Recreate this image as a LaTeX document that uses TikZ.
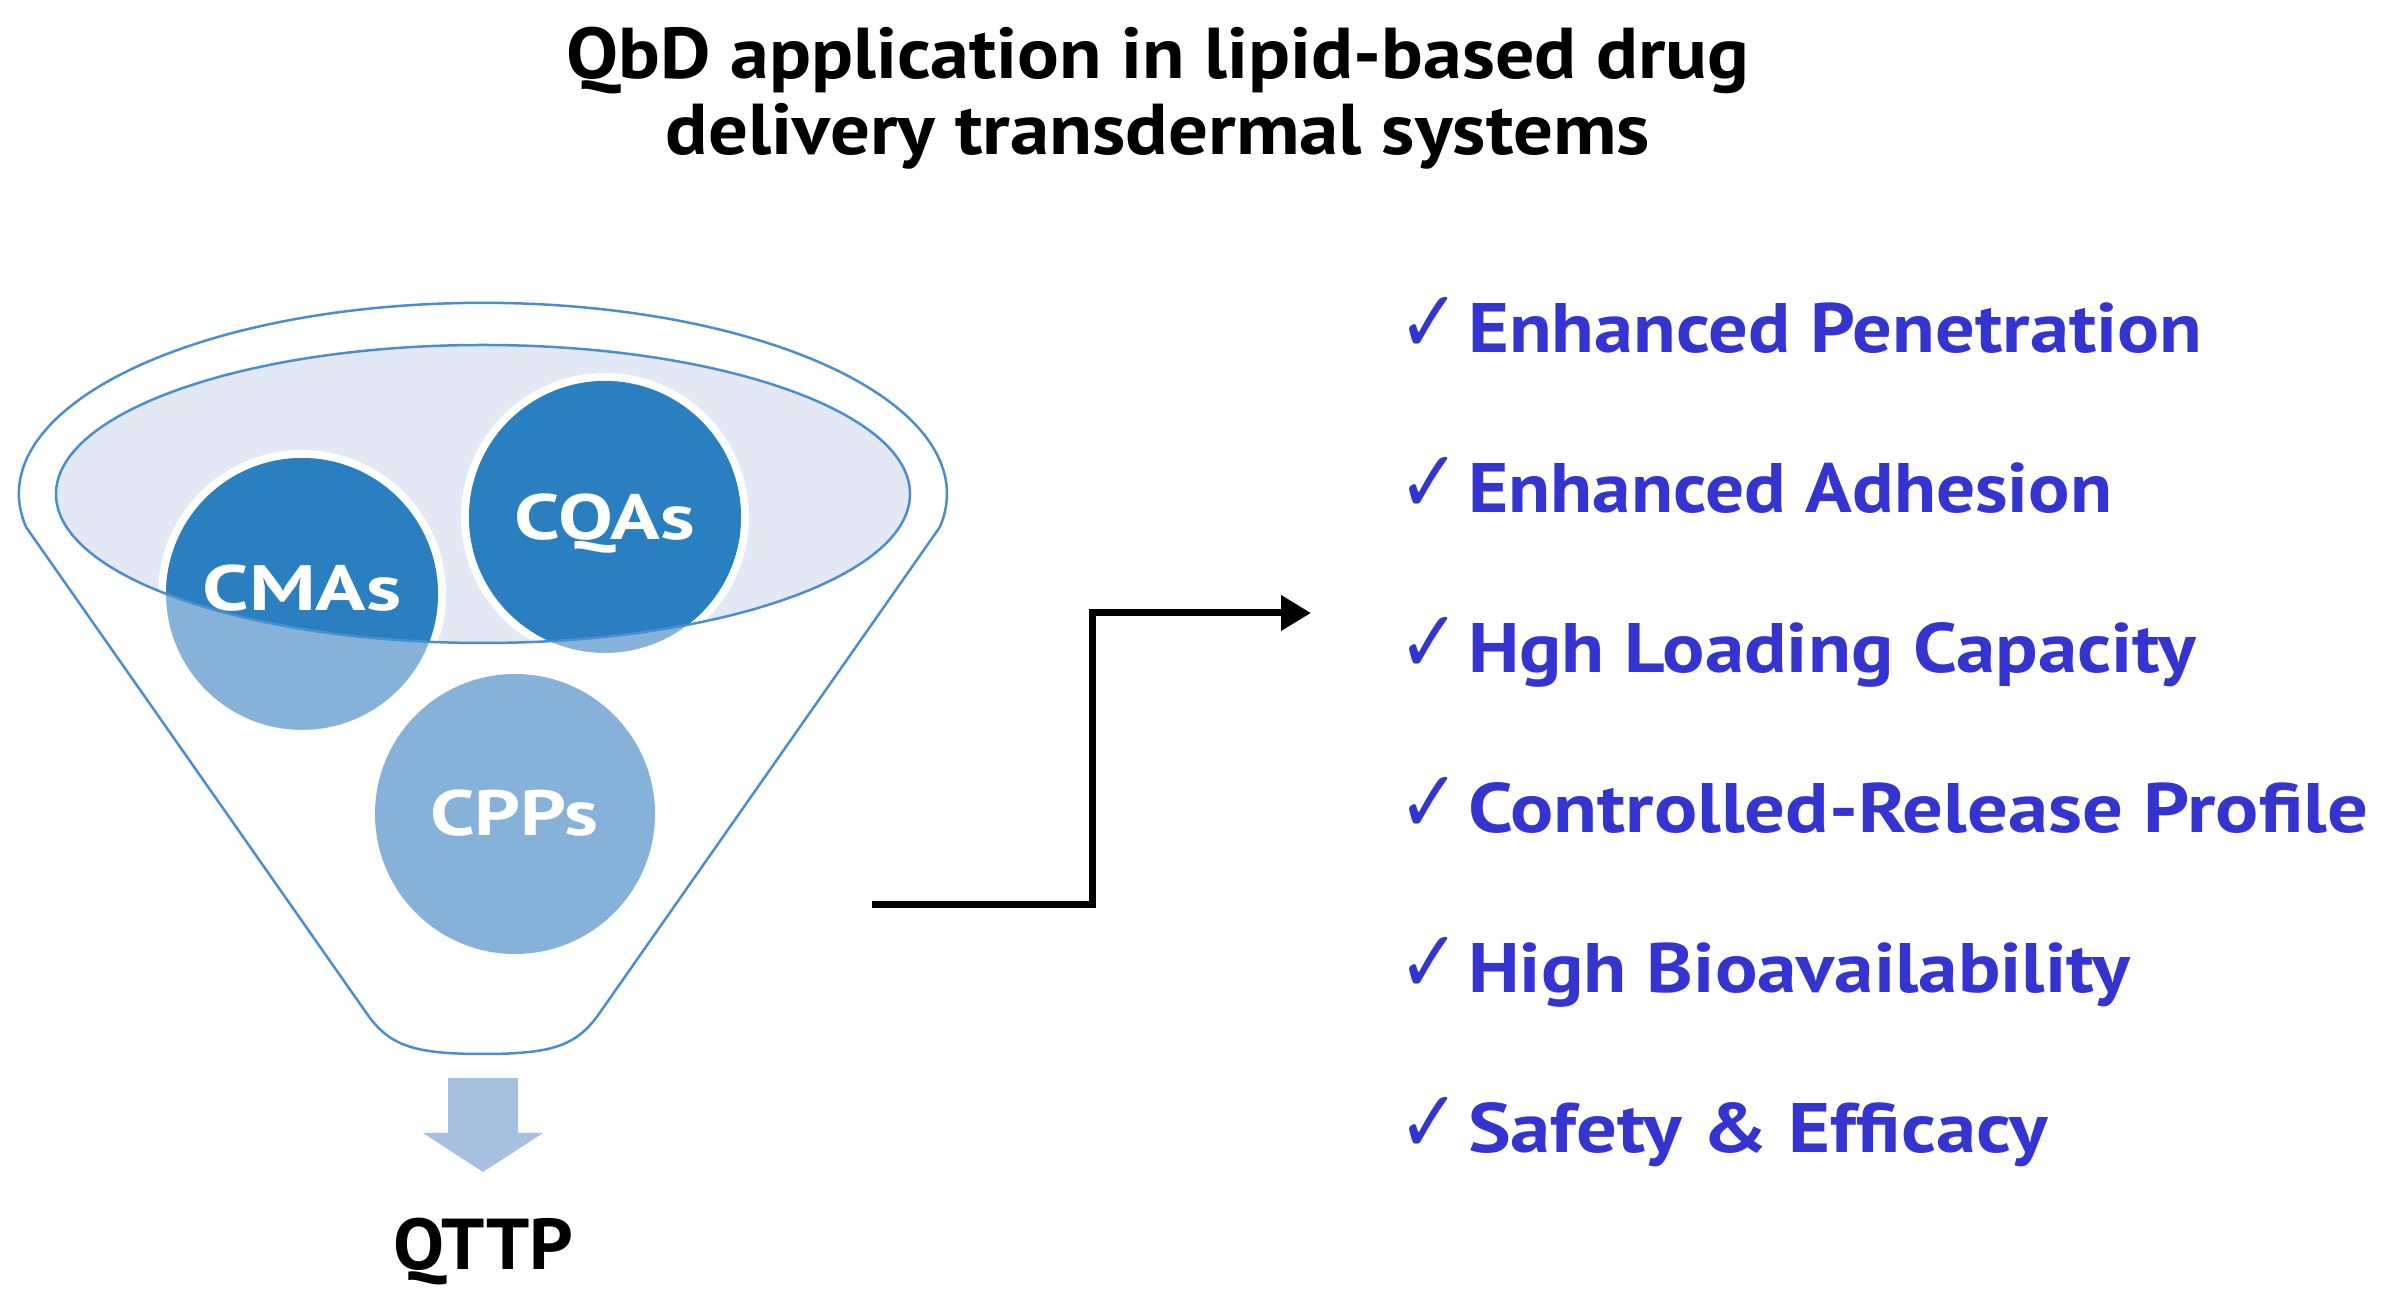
\documentclass[tikz,border=0pt]{standalone}
\usepackage{graphicx}
\usepackage{fontspec}
\setmainfont{PT Sans}
\newfontfamily\symfont{DejaVu Sans}
\usetikzlibrary{arrows.meta}
\definecolor{dkblue}{RGB}{42,127,193}
\definecolor{ltblue}{RGB}{134,178,217}
\definecolor{ellfill}{RGB}{227,233,244}
\definecolor{outl}{RGB}{75,142,208}
\definecolor{arrowc}{RGB}{168,192,224}
\definecolor{itemc}{RGB}{52,52,208}
\newcommand\fitw[2]{\resizebox{#1}{\height}{#2}}
\tikzset{
  titletxt/.style={font=\bfseries\fontsize{72}{80}\selectfont, text=black, inner sep=0, anchor=base},
  itemtxt/.style={font=\bfseries\fontsize{70}{80}\selectfont, text=itemc, inner sep=0, anchor=base west},
  chk/.style={font=\symfont\bfseries\fontsize{44}{50}\selectfont, text=itemc, inner sep=0, anchor=base west},
  lbl/.style={font=\bfseries\fontsize{64}{70}\selectfont, text=white, inner sep=0, anchor=base},
  funnel/.style={draw=outl, line width=2.5pt, fill=white},
  ball/.style={circle, minimum size=280pt, inner sep=0, fill=ltblue},
  ringball/.style={ball, draw=white, line width=8pt},
  conn/.style={draw=black, line width=7pt, -{Triangle[length=30pt,width=34pt]}}
}
\begin{document}
\begin{tikzpicture}[x=1pt,y=1pt]
\useasboundingbox (0,0) rectangle (2385,1301);
\fill[white] (0,0) rectangle (2385,1301);

% title
\node[titletxt] (t1) at (1158,1222) {\fitw{1183pt}{QbD application in lipid-based drug}};
\node[titletxt] (t2) at (1158,1146) {\fitw{984pt}{delivery transdermal systems}};

% funnel
\draw[funnel] (26,774) arc[start angle=190, end angle=-10, x radius=464, y radius=191]
  -- (601,290) .. controls (578,256) and (555,247) .. (483,247)
  .. controls (411,247) and (388,256) .. (365,290) -- cycle;
\fill[ellfill] (483,807) ellipse [x radius=427, y radius=149];

\node[ringball] (cma) at (302,707) {};
\node[ringball] (cqa) at (605,784) {};
\begin{scope}
  \clip (483,807) ellipse [x radius=427, y radius=149];
  \fill[dkblue] (cma.center) circle[radius=136];
  \fill[dkblue] (cqa.center) circle[radius=136];
\end{scope}
\draw[outl, line width=2.5pt] (483,807) ellipse [x radius=427, y radius=149];
\node[ball] (cpp) at (515,487) {};

\node[lbl] (cmaL) at (302,690) {\fitw{199pt}{CMAs}};
\node[lbl] (cqaL) at (605,761) {\fitw{180pt}{CQAs}};
\node[lbl] (cppL) at (514,465) {\fitw{168pt}{CPPs}};

% down arrow
\fill[arrowc] (448,223) -- (518,223) -- (518,168) -- (543,168) -- (483,129)
  -- (423,168) -- (448,168) -- cycle;
\node[titletxt] (qttp) at (483,31) {\fitw{180pt}{QTTP}};

% connector
\coordinate (c0) at (872,396);
\coordinate (k) at (1092,396);
\coordinate (c1) at (1311,688);
\draw[conn] (c0) -- (k) -- (k |- c1) -- (c1);

% list
\foreach \n/\y/\w/\t in {1/948/734/Enhanced Penetration,
                         2/788/644/Enhanced Adhesion,
                         3/628/728/Hgh Loading Capacity,
                         4/468/900/Controlled-Release Profile,
                         5/308/662/High Bioavailability,
                         6/148/580/Safety \& Efficacy}{
  \node[chk] (ck\n) at (1398,\y) {\resizebox{62pt}{55pt}{✓}};
  \node[itemtxt] (it\n) at (1468,\y) {\fitw{\w pt}{\t}};
}
\end{tikzpicture}
\end{document}
